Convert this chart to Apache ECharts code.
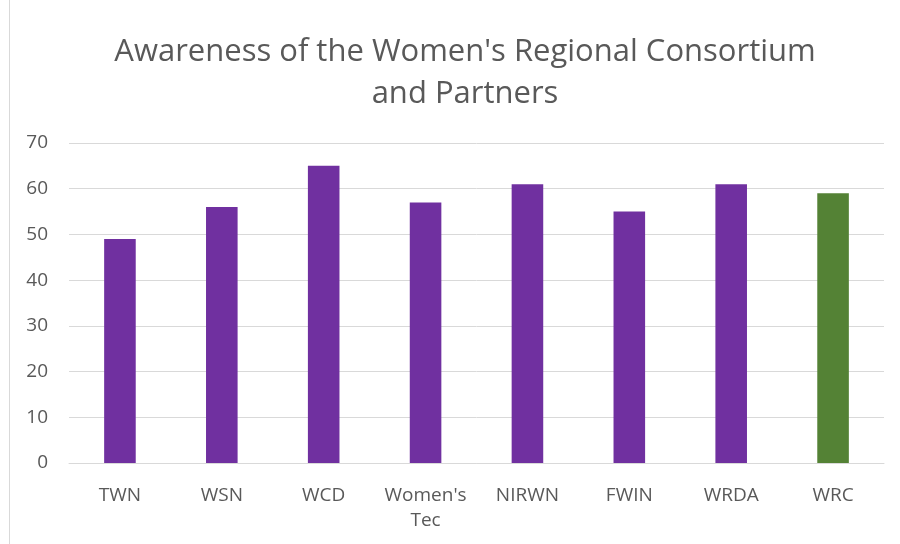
<!DOCTYPE html>
<html>
<head>
<meta charset="utf-8">
<script src="https://cdn.jsdelivr.net/npm/echarts@6/dist/echarts.min.js"></script>
<style>
  html, body { margin: 0; padding: 0; background: #fff; }
  #chart { width: 900px; height: 544px; }
</style>
</head>
<body>
<div id="chart"></div>
<script>
  // data
  var categories = ['TWN', 'WSN', 'WCD', "Women's\nTec", 'NIRWN', 'FWIN', 'WRDA', 'WRC'];
  var values = [49, 56, 65, 57, 61, 55, 61, 59];
  var barColors = ['#7030A0', '#7030A0', '#7030A0', '#7030A0', '#7030A0', '#7030A0', '#7030A0', '#548235'];

  var chart = echarts.init(document.getElementById('chart'));
  chart.setOption({
    animation: false,
    textStyle: { fontFamily: 'Open Sans' },
    graphic: [{
      type: 'line',
      shape: { x1: 9.5, y1: 0, x2: 9.5, y2: 544 },
      style: { stroke: '#d9d9d9', lineWidth: 1 }
    }],
    title: {
      text: "Awareness of the Women's Regional Consortium\nand Partners",
      left: 460,
      textAlign: 'center',
      top: 26,
      textStyle: { color: '#595959', fontSize: 31, fontWeight: 'normal', lineHeight: 42, fontFamily: 'Open Sans' }
    },
    grid: { left: 69, right: 16, top: 143, bottom: 81 },
    xAxis: {
      type: 'category',
      data: categories,
      axisLine: { lineStyle: { color: '#d9d9d9', width: 1 } },
      axisTick: { show: false },
      axisLabel: { color: '#595959', fontSize: 19, margin: 20, lineHeight: 25, interval: 0 }
    },
    yAxis: {
      type: 'value',
      min: 0, max: 70, interval: 10,
      axisLine: { show: false },
      axisTick: { show: false },
      splitLine: { lineStyle: { color: '#d9d9d9', width: 1 } },
      axisLabel: { color: '#595959', fontSize: 19, margin: 21 }
    },
    series: [{
      type: 'bar',
      barWidth: '31%',
      data: values.map(function (v, i) {
        return { value: v, itemStyle: { color: barColors[i] } };
      })
    }]
  });
</script>
</body>
</html>
